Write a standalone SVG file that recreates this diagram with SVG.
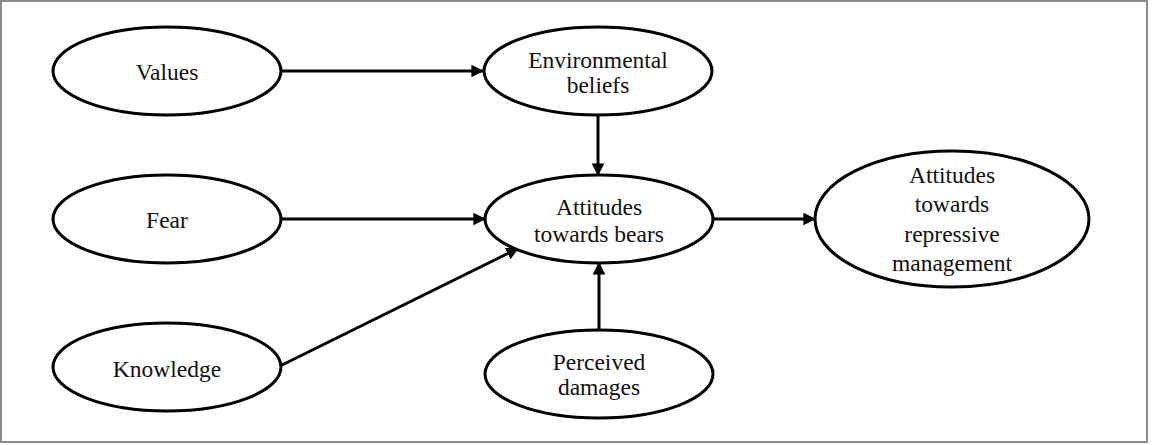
<svg xmlns="http://www.w3.org/2000/svg" width="1152" height="445" viewBox="0 0 1152 445">
  <style>
    .node ellipse { fill: #ffffff; stroke: #000000; stroke-width: 3; }
    .node text { font-family: "Liberation Serif", "Times New Roman", serif; font-size: 23.5px; fill: #111111; text-anchor: middle; }
    .edge { stroke: #000000; stroke-width: 3; fill: none; marker-end: url(#arrow); }
  </style>
  <defs>
    <marker id="arrow" viewBox="0 0 10 10" refX="10" refY="5" markerWidth="4.2" markerHeight="5.6" orient="auto" markerUnits="strokeWidth">
      <path d="M0,0 L10,5 L0,10 z" fill="#000000"/>
    </marker>
  </defs>

  <!-- frame -->
  <rect x="1" y="1" width="1146" height="441" fill="#ffffff" stroke="#8a8a8a" stroke-width="2"/>

  <!-- connectors -->
  <g id="connectors">
    <line class="edge" x1="282" y1="71" x2="484" y2="71"/>
    <line class="edge" x1="598" y1="115" x2="598" y2="176"/>
    <line class="edge" x1="282" y1="219" x2="486" y2="219"/>
    <line class="edge" x1="282" y1="365" x2="519" y2="248"/>
    <line class="edge" x1="599" y1="330" x2="599" y2="262"/>
    <line class="edge" x1="713" y1="219" x2="816" y2="219"/>
  </g>

  <g id="values" class="node">
    <ellipse cx="167" cy="71" rx="114" ry="44"/>
    <text x="167" y="80">Values</text>
  </g>

  <g id="fear" class="node">
    <ellipse cx="167" cy="219" rx="114" ry="44"/>
    <text x="167" y="228">Fear</text>
  </g>

  <g id="knowledge" class="node">
    <ellipse cx="167" cy="367" rx="114" ry="44"/>
    <text x="167" y="377">Knowledge</text>
  </g>

  <g id="environmental-beliefs" class="node">
    <ellipse cx="598" cy="71" rx="114" ry="44"/>
    <text x="598" y="68">Environmental</text>
    <text x="598" y="93">beliefs</text>
  </g>

  <g id="attitudes-bears" class="node">
    <ellipse cx="599" cy="219" rx="114" ry="44"/>
    <text x="599" y="215">Attitudes</text>
    <text x="599" y="242">towards bears</text>
  </g>

  <g id="perceived-damages" class="node">
    <ellipse cx="599" cy="374" rx="114" ry="44"/>
    <text x="599" y="370">Perceived</text>
    <text x="599" y="395">damages</text>
  </g>

  <g id="attitudes-management" class="node">
    <ellipse cx="952" cy="219" rx="137" ry="68"/>
    <text x="952" y="183">Attitudes</text>
    <text x="952" y="212">towards</text>
    <text x="952" y="242">repressive</text>
    <text x="952" y="271">management</text>
  </g>
</svg>
